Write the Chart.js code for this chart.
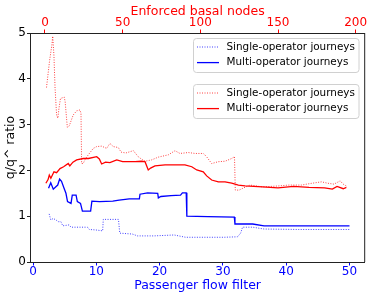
<!DOCTYPE html>
<html>
<head>
<meta charset="utf-8">
<script src="https://cdn.jsdelivr.net/npm/chart.js@4/dist/chart.umd.min.js"></script>
<style>
  html, body { margin: 0; padding: 0; background: #fff; }
  #chart { display: block; }
</style>
</head>
<body>
<canvas id="chart" width="374" height="299"></canvas>
<script>
// Tick labels
const flowTicks = [0, 10, 20, 30, 40, 50];
const basalTicks = [0, 50, 100, 150, 200];
const ratioTicks = [0, 1, 2, 3, 4, 5];

// Blue series, plotted against passenger flow filter (bottom axis)
const singleFlowX = [2.55, 2.8, 3.2, 3.6, 4.0, 4.4, 4.7, 5.7, 6.0, 8.6, 8.9, 9.9, 11.0, 11.1, 13.5, 13.7, 15.7, 16.5, 19.1, 22.3, 24.1, 27.0, 30.2, 32.3, 32.8, 33.1, 34.7, 36.5, 42.0, 50.0];
const singleFlowY = [1.05, 0.92, 0.95, 0.92, 0.88, 0.88, 0.79, 0.81, 0.76, 0.76, 0.71, 0.70, 0.68, 0.93, 0.93, 0.63, 0.61, 0.57, 0.57, 0.59, 0.54, 0.54, 0.54, 0.55, 0.63, 0.76, 0.76, 0.72, 0.71, 0.71];
const multiFlowX = [2.45, 2.8, 3.2, 3.9, 4.2, 4.5, 4.9, 5.2, 5.45, 6.0, 6.2, 6.8, 7.0, 7.5, 7.8, 9.1, 9.3, 10.5, 12.6, 13.6, 15.2, 16.8, 16.9, 18.1, 19.7, 19.8, 20.2, 21.8, 23.3, 23.6, 24.2, 24.3, 27.6, 31.8, 31.9, 34.7, 36.5, 50.0];
const multiFlowY = [1.61, 1.73, 1.59, 1.68, 1.81, 1.76, 1.61, 1.50, 1.32, 1.28, 1.46, 1.46, 1.32, 1.28, 1.11, 1.11, 1.33, 1.32, 1.33, 1.35, 1.38, 1.38, 1.48, 1.51, 1.50, 1.40, 1.43, 1.45, 1.46, 1.51, 1.51, 1.00, 0.99, 0.98, 0.83, 0.83, 0.79, 0.79];

// Red series, plotted against enforced basal nodes (top axis)
const singleBasalX = [1, 3, 4.5, 5, 5.8, 6.5, 7.5, 8.3, 9, 10, 12.4, 13, 14.4, 15.6, 17, 18.2, 20.4, 22.5, 23.2, 23.6, 24.6, 26, 27.9, 31.1, 33.3, 36.5, 39.7, 41.8, 44, 47.2, 49, 52, 56.9, 60, 62, 64.4, 68.7, 73, 79.4, 83.7, 86.9, 92.3, 96.6, 101.9, 104, 107.3, 111.6, 115.9, 120.2, 122, 122.5, 125, 128, 132, 140, 150, 157, 165, 172, 178, 182, 186, 190, 192, 194];
const singleBasalY = [3.81, 4.40, 4.75, 4.93, 4.50, 3.80, 3.21, 3.14, 3.35, 3.57, 3.60, 3.50, 2.94, 2.97, 3.10, 3.21, 3.30, 3.32, 3.25, 2.15, 2.15, 2.25, 2.34, 2.48, 2.52, 2.53, 2.48, 2.59, 2.52, 2.50, 2.40, 2.38, 2.43, 2.30, 2.25, 2.20, 2.23, 2.29, 2.34, 2.43, 2.37, 2.39, 2.37, 2.37, 2.30, 2.15, 2.19, 2.20, 2.26, 2.30, 1.57, 1.57, 1.62, 1.68, 1.64, 1.66, 1.68, 1.68, 1.72, 1.75, 1.72, 1.70, 1.77, 1.70, 1.66];
const multiBasalX = [0.6, 2, 2.8, 3.8, 5.8, 7.5, 9.7, 12, 15, 16, 18, 20.4, 24.7, 28, 33.3, 35, 36.5, 39, 41.8, 46.2, 50, 54.7, 58, 62, 64.4, 66.5, 68, 70.8, 77.3, 83.7, 90.1, 94.5, 97.7, 101.9, 104.1, 107.3, 111.6, 115.9, 120.2, 124.5, 128.8, 140, 150, 160, 170, 180, 185, 188, 192, 194];
const multiBasalY = [1.72, 1.80, 1.90, 1.83, 1.97, 1.95, 2.04, 2.08, 2.15, 2.10, 2.18, 2.23, 2.26, 2.26, 2.30, 2.25, 2.14, 2.18, 2.17, 2.23, 2.19, 2.19, 2.19, 2.20, 2.19, 2.01, 2.05, 2.10, 2.12, 2.12, 2.12, 2.08, 2.01, 1.97, 1.88, 1.79, 1.75, 1.75, 1.72, 1.68, 1.66, 1.64, 1.62, 1.65, 1.63, 1.62, 1.59, 1.65, 1.60, 1.63];

const FONT = "'DejaVu Sans', sans-serif";
const BLUE = "#0000ff";
const RED = "#ff0000";
const BLUE_DOT = "rgba(0,0,255,0.75)";
const RED_DOT = "rgba(255,0,0,0.75)";

function pts(xs, ys) {
  return xs.map((x, i) => ({ x: x, y: ys[i] }));
}

function fixTicks(values) {
  return scale => { scale.ticks = values.map(v => ({ value: v })); };
}

// two boxed legends, like matplotlib draws them
const legendBoxes = {
  id: "legendBoxes",
  afterDraw(chart) {
    const ctx = chart.ctx;
    const groups = [
      { top: 38.5, items: [0, 1] },
      { top: 84.5, items: [2, 3] }
    ];
    ctx.save();
    groups.forEach(g => {
      const x = 193.5, w = 165.5, h = 34, r = 3;
      ctx.beginPath();
      ctx.moveTo(x + r, g.top);
      ctx.arcTo(x + w, g.top, x + w, g.top + h, r);
      ctx.arcTo(x + w, g.top + h, x, g.top + h, r);
      ctx.arcTo(x, g.top + h, x, g.top, r);
      ctx.arcTo(x, g.top, x + w, g.top, r);
      ctx.closePath();
      ctx.fillStyle = "rgba(255,255,255,0.8)";
      ctx.fill();
      ctx.strokeStyle = "#d0d0d0";
      ctx.lineWidth = 1;
      ctx.stroke();
      g.items.forEach((idx, k) => {
        const ds = chart.data.datasets[idx];
        const y = g.top + 8.5 + k * 15.6;
        ctx.beginPath();
        ctx.setLineDash(ds.borderDash || []);
        ctx.strokeStyle = ds.borderColor;
        ctx.lineWidth = ds.borderWidth;
        ctx.moveTo(197, y);
        ctx.lineTo(219, y);
        ctx.stroke();
        ctx.setLineDash([]);
        ctx.fillStyle = "#000";
        ctx.font = "10.4px " + FONT;
        ctx.textBaseline = "middle";
        ctx.fillText(ds.label, 226.5, y);
      });
    });
    ctx.restore();
  }
};

// right spine
const frame = {
  id: "frame",
  afterDraw(chart) {
    const a = chart.chartArea, ctx = chart.ctx;
    ctx.save();
    ctx.strokeStyle = "#222";
    ctx.lineWidth = 1;
    ctx.beginPath();
    ctx.moveTo(a.right, a.top);
    ctx.lineTo(a.right, a.bottom);
    ctx.stroke();
    ctx.restore();
  }
};

new Chart(document.getElementById("chart"), {
  type: "line",
  data: {
    datasets: [
      { label: "Single-operator journeys", data: pts(singleFlowX, singleFlowY), xAxisID: "x", borderColor: BLUE_DOT, borderWidth: 1, borderDash: [1, 1.5] },
      { label: "Multi-operator journeys", data: pts(multiFlowX, multiFlowY), xAxisID: "x", borderColor: BLUE, borderWidth: 1.3 },
      { label: "Single-operator journeys", data: pts(singleBasalX, singleBasalY), xAxisID: "x2", borderColor: RED_DOT, borderWidth: 1, borderDash: [1, 1.5] },
      { label: "Multi-operator journeys", data: pts(multiBasalX, multiBasalY), xAxisID: "x2", borderColor: RED, borderWidth: 1.3 }
    ]
  },
  options: {
    responsive: false,
    animation: false,
    devicePixelRatio: 1,
    elements: { point: { radius: 0 }, line: { tension: 0, fill: false } },
    layout: { padding: { left: 0, right: 9.3, top: 0, bottom: 0 } },
    plugins: { legend: { display: false }, tooltip: { enabled: false } },
    scales: {
      x: {
        type: "linear", position: "bottom", min: -0.4, max: 52.4,
        afterBuildTicks: fixTicks(flowTicks),
        afterFit: s => { s.height = 37; },
        border: { display: true, color: "#222", width: 1 },
        grid: { drawOnChartArea: false, drawTicks: true, tickLength: 3.5, color: BLUE },
        ticks: { color: BLUE, font: { family: FONT, size: 12 }, padding: -1, maxRotation: 0 },
        title: { display: true, text: "Passenger flow filter", color: BLUE, font: { family: FONT, size: 12.5 }, padding: { top: 0, bottom: 5.5 } }
      },
      x2: {
        type: "linear", position: "top", min: -9.3, max: 205.8,
        afterBuildTicks: fixTicks(basalTicks),
        afterFit: s => { s.height = 33; },
        border: { display: true, color: "#222", width: 1 },
        grid: { drawOnChartArea: false, drawTicks: true, tickLength: 3.5, color: RED },
        ticks: { color: RED, font: { family: FONT, size: 12 }, padding: -1, maxRotation: 0 },
        title: { display: true, text: "Enforced basal nodes", color: RED, font: { family: FONT, size: 12.5 }, padding: { top: 4, bottom: 0 } }
      },
      y: {
        type: "linear", position: "left", min: 0, max: 5,
        afterBuildTicks: fixTicks(ratioTicks),
        afterFit: s => { s.width = 30.5; },
        border: { display: true, color: "#222", width: 1 },
        grid: { drawOnChartArea: false, drawTicks: true, tickLength: 3.5, color: "#222" },
        ticks: { color: "#000", font: { family: FONT, size: 12 }, padding: 1 },
        title: { display: true, text: "q/q^ ratio", color: "#000", font: { family: FONT, size: 12.5 }, padding: { top: 3, bottom: 0 } }
      }
    }
  },
  plugins: [legendBoxes, frame]
});
</script>
</body>
</html>
